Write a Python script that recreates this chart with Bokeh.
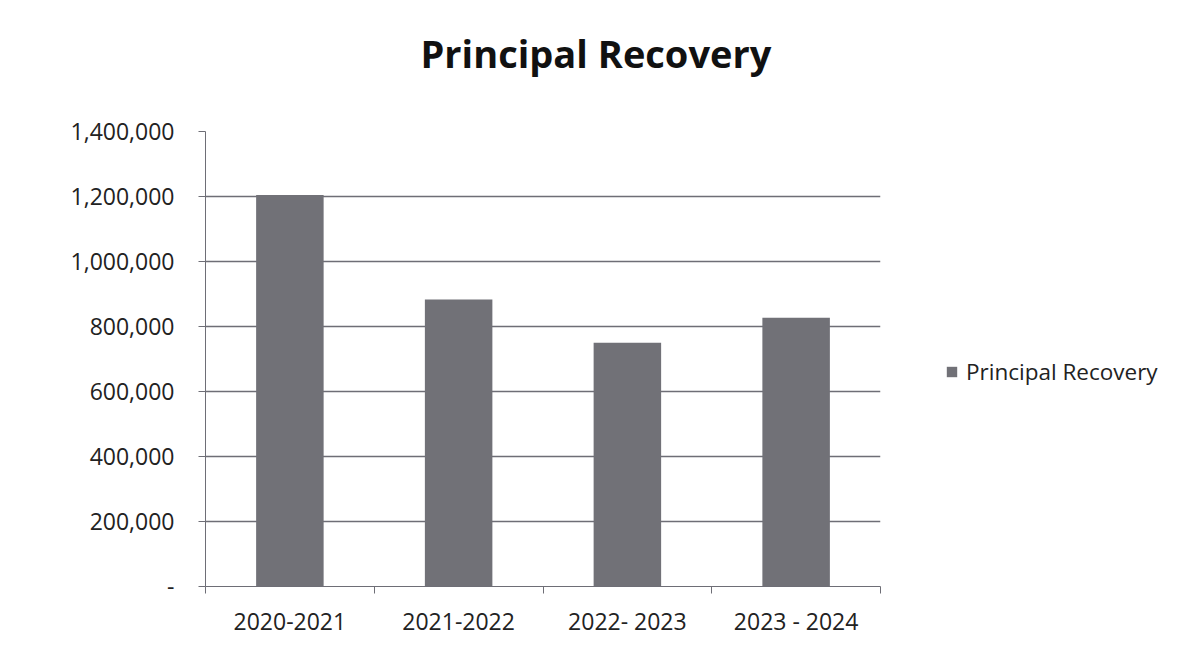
from bokeh.plotting import figure
from bokeh.models import ColumnDataSource, FixedTicker, Legend, LegendItem, Range1d, NumeralTickFormatter
from bokeh.embed import file_html
from bokeh.resources import INLINE

categories = ["2020-2021", "2021-2022", "2022- 2023", "2023 - 2024"]
principal_recovery = [1205000, 883000, 750000, 827000]
y_ticks = [0, 200000, 400000, 600000, 800000, 1000000, 1200000, 1400000]

FONT = "Open Sans"
GRID = "#6e6e76"
BAR = "#717177"

x_centers = [i + 0.5 for i in range(len(categories))]
src = ColumnDataSource(dict(x=x_centers, top=principal_recovery, cat=categories))

p = figure(frame_width=675, frame_height=455, output_backend="svg", toolbar_location=None,
           x_range=Range1d(0, len(categories)), y_range=Range1d(0, 1400000),
           min_border_left=205, min_border_right=0, min_border_top=131, min_border_bottom=73,
           margin=(-29, 0, 0, 0))

r = p.vbar(x="x", top="top", width=0.4, source=src, fill_color=BAR, line_color=None)

p.title.text = "Principal Recovery"
p.title.text_font = FONT
p.title.text_font_size = "38px"
p.title.text_font_style = "bold"
p.title.text_color = "#111111"
p.title.align = "left"
p.title.offset = 215
p.title.standoff = 106

# y axis
p.yaxis.ticker = FixedTicker(ticks=y_ticks, minor_ticks=[])
p.yaxis.formatter = NumeralTickFormatter(format="0,0")
p.yaxis.major_label_overrides = {0: "-"}
p.yaxis.major_tick_out = 7
p.yaxis.major_tick_in = 0
p.yaxis.major_label_standoff = 24
p.yaxis.axis_line_color = GRID
p.yaxis.major_tick_line_color = GRID
p.yaxis.major_label_text_font = FONT
p.yaxis.major_label_text_font_size = "23px"
p.yaxis.major_label_text_color = "#222222"

# x axis
p.xaxis.ticker = FixedTicker(ticks=x_centers, minor_ticks=list(range(len(categories) + 1)))
p.xaxis.major_label_overrides = {c: lab for c, lab in zip(x_centers, categories)}
p.xaxis.major_tick_line_color = None
p.xaxis.minor_tick_line_color = GRID
p.xaxis.minor_tick_out = 7
p.xaxis.minor_tick_in = 0
p.xaxis.major_label_standoff = 11
p.xaxis.axis_line_color = GRID
p.xaxis.major_label_text_font = FONT
p.xaxis.major_label_text_font_size = "23px"
p.xaxis.major_label_text_color = "#222222"

p.xgrid.visible = False
p.ygrid.grid_line_color = GRID
p.ygrid.grid_line_width = 1.4
p.outline_line_color = None
p.background_fill_color = "white"
p.border_fill_color = "white"

legend = Legend(items=[LegendItem(label="Principal Recovery", renderers=[r])],
                location=(65, 199), glyph_width=13, glyph_height=13, label_height=20,
                padding=0, margin=0, spacing=0, label_standoff=8,
                border_line_color=None, background_fill_alpha=0,
                label_text_font=FONT, label_text_font_size="22.5px", label_text_color="#222222")
p.add_layout(legend, "right")

open("out.html", "w").write(file_html(p, INLINE))
